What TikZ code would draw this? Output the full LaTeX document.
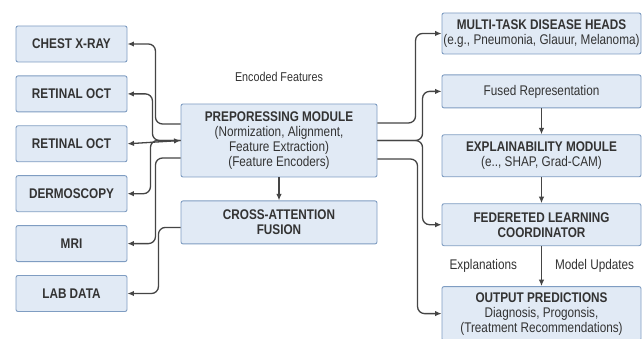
\documentclass[tikz,border=0pt]{standalone}
\usepackage{fontspec}
\setmainfont{Liberation Sans}[FakeStretch=0.84]
\usetikzlibrary{positioning,arrows.meta,calc}
\definecolor{boxfill}{HTML}{E1EAF5}
\definecolor{boxline}{HTML}{7F9DC2}
\definecolor{inkgray}{HTML}{333333}
\definecolor{wiregray}{HTML}{454545}

\begin{document}
\begin{tikzpicture}[x=1pt,y=-1pt,font=\fontsize{14}{15}\selectfont,text=inkgray,
  box/.style={draw=boxline,fill=boxfill,line width=0.9pt,rounded corners=2pt,align=center,inner sep=0pt},
  src/.style={box,minimum width=111pt,minimum height=36pt,font=\fontsize{14}{15}\selectfont\bfseries},
  mid/.style={box,minimum width=196pt},
  side/.style={box,minimum width=199pt},
  wire/.style={draw=wiregray,line width=1.3pt,rounded corners=7pt},
  tip/.style={-{Latex[length=6.5pt,width=5.5pt]}},
  tips/.style={{Latex[length=6.5pt,width=5.5pt]}-{Latex[length=6.5pt,width=5.5pt]}}]
  \useasboundingbox[fill=white] (0,0) rectangle (642,339);
  \node[src] (chest) at (71.5,44) {CHEST X-RAY};
  \node[src,below=13pt of chest] (oct1) {RETINAL OCT};
  \node[src,below=13pt of oct1] (oct2) {RETINAL OCT};
  \node[src,below=13pt of oct2] (derm) {DERMOSCOPY};
  \node[src,below=13pt of derm] (mri) {MRI};
  \node[src,below=13pt of mri] (lab) {LAB DATA};
  \node[mid,minimum height=73pt] (prep) at (279,140.5) {\textbf{PREPORESSING MODULE}\\(Normization, Alignment,\\Feature Extraction)\\(Feature Encoders)};
  \node[mid,minimum height=43pt,below=23pt of prep,font=\fontsize{14}{15}\selectfont\bfseries] (fusion) {CROSS-ATTENTION\\FUSION};
  \node[above=18pt of prep,font=\fontsize{12.8}{14}\selectfont] (encoded) {Encoded Features};
  \node[side,minimum height=41pt] (heads) at (541.5,33.5) {\textbf{MULTI-TASK DISEASE HEADS}\\(e.g., Pneumonia, Glauur, Melanoma)};
  \node[side,minimum height=33pt,below=20pt of heads] (fused) {Fused Representation};
  \node[side,minimum height=42pt,below=26pt of fused] (explain) {\textbf{EXPLAINABILITY MODULE}\\(e.., SHAP, Grad-CAM)};
  \node[side,minimum height=42pt,below=26pt of explain,font=\fontsize{14}{15}\selectfont\bfseries] (fed) {FEDERETED LEARNING\\COORDINATOR};
  \node[side,minimum height=54pt,below=40pt of fed] (out) {\textbf{OUTPUT PREDICTIONS}\\Diagnosis, Progonsis,\\(Treatment Recommendations)};
  \node[anchor=east] (expl) at ($(fed.south)+(-21,20)$) {Explanations};
  \node[anchor=west] (upd) at ($(fed.south)+(10,20)$) {Model Updates};
  \draw[wire,tip] ($(prep.west)+(0,-16.5)$) -| ($(chest.east)+(28,0)$) -- (chest.east);
  \draw[wire,tip] (prep.west) -| ($(oct1.east)+(25,0)$) -- (oct1.east);
  \draw[wire,tips] (oct2.east) -- (prep.west);
  \draw[wire,tip] (prep.west) -| ($(derm.east)+(23,0)$) -- (derm.east);
  \draw[wire,tip] ($(prep.west)+(0,17.5)$) -| ($(mri.east)+(28,0)$) -- (mri.east);
  \draw[wire,tip] ($(fusion.west)+(0,5)$) -| ($(lab.east)+(31,0)$) -- (lab.east);
  \draw[wire,tip] ($(prep.east)+(0,-17.5)$) -| ($(heads.west)+(-26,0)$) -- (heads.west);
  \draw[wire,tip] (prep.east) -| ($(fused.west)+(-19,0)$) -- (fused.west);
  \draw[wire,tip] (prep.east) -| ($(fed.west)+(-19,0)$) -- (fed.west);
  \draw[wire,tip] ($(prep.east)+(0,18.5)$) -| ($(out.west)+(-24,0)$) -- (out.west);
  \draw[wire,tip] (prep.south) -- (fusion.north);
  \draw[wire,tip] (fused.south) -- (explain.north);
  \draw[wire,tip] (explain.south) -- (fed.north);
  \draw[wire,tip] (fed.south) -- (out.north);
\end{tikzpicture}
\end{document}
